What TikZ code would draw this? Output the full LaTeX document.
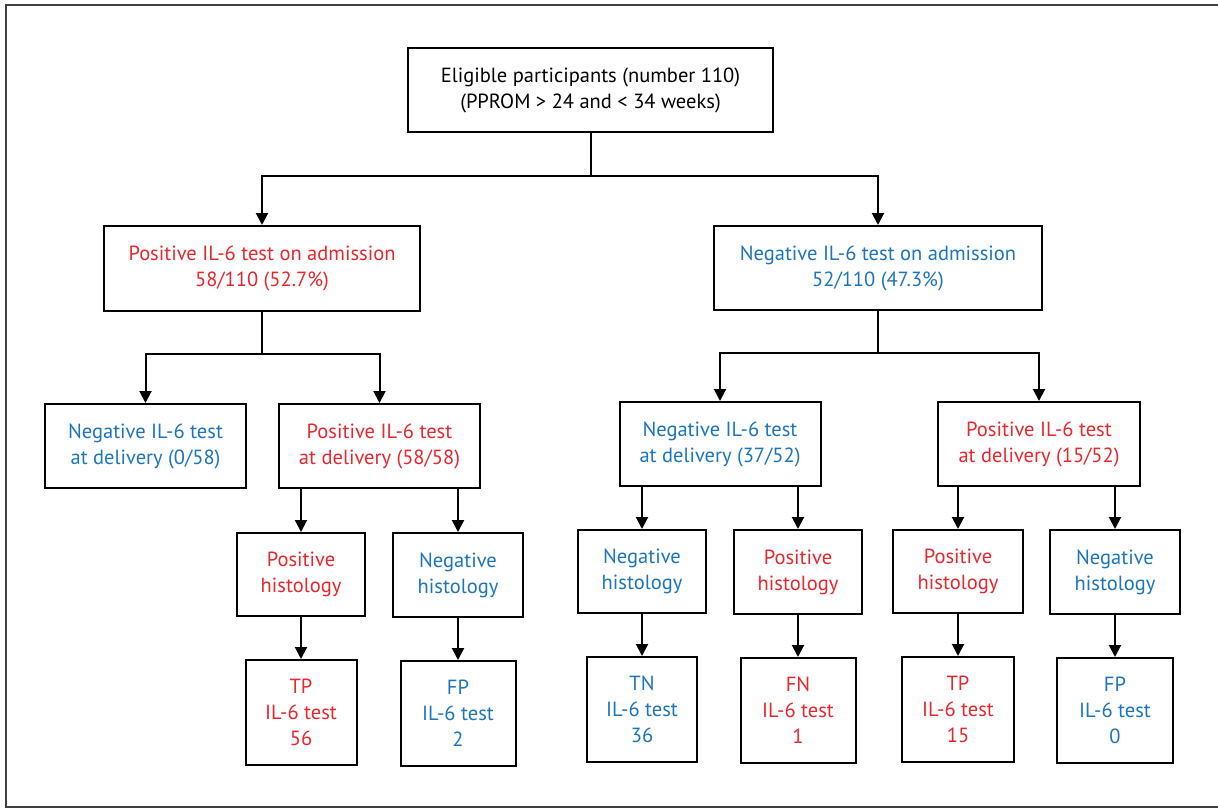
\documentclass[tikz,border=0pt]{standalone}
\usepackage{fontspec}
\setmainfont{PT Sans}
\usetikzlibrary{arrows.meta}
\definecolor{posred}{RGB}{232,38,45}
\definecolor{negblue}{RGB}{28,117,187}
\begin{document}
\begin{tikzpicture}[x=1pt,y=-1pt,
  box/.style={draw=black, line width=2pt, align=center, inner sep=0pt,
    font=\fontsize{20.5}{26}\selectfont},
  posbox/.style={box, text=posred},
  negbox/.style={box, text=negblue},
  arr/.style={line width=2pt, -{Triangle[width=12pt,length=12pt]}},
  ln/.style={line width=2pt}]
\useasboundingbox (0,0) rectangle (1218,809);
\draw[black!75, line width=2pt] (6,5) rectangle (1230,807);
% level 0
\node[box, minimum width=365pt, minimum height=84pt] (top) at (590.5,90)
  {Eligible participants (number 110)\\(PPROM > 24 and < 34 weeks)};
% level 1
\node[posbox, minimum width=316pt, minimum height=85pt] (L1) at (262,268.5)
  {Positive IL-6 test on admission\\58/110 (52.7\%)};
\node[negbox, minimum width=328pt, minimum height=84pt] (R1) at (878,268)
  {Negative IL-6 test on admission\\52/110 (47.3\%)};
% level 2
\node[negbox, minimum width=201pt, minimum height=84pt] (L2a) at (145.5,446)
  {Negative IL-6 test\\at delivery (0/58)};
\node[posbox, minimum width=201pt, minimum height=84pt] (L2b) at (379.5,446)
  {Positive IL-6 test\\at delivery (58/58)};
\node[negbox, minimum width=201pt, minimum height=84pt] (R2a) at (720,444)
  {Negative IL-6 test\\at delivery (37/52)};
\node[posbox, minimum width=202pt, minimum height=84pt] (R2b) at (1039,444)
  {Positive IL-6 test\\at delivery (15/52)};
% level 3
\node[posbox, minimum width=128pt, minimum height=83pt] (L3a) at (301,574.5)
  {Positive\\histology};
\node[negbox, minimum width=130pt, minimum height=84pt] (L3b) at (458,575)
  {Negative\\histology};
\node[negbox, minimum width=128pt, minimum height=83pt] (R3a) at (642,571.5)
  {Negative\\histology};
\node[posbox, minimum width=128pt, minimum height=84pt] (R3b) at (798,572)
  {Positive\\histology};
\node[posbox, minimum width=130pt, minimum height=83pt] (R3c) at (958,571.5)
  {Positive\\histology};
\node[negbox, minimum width=130pt, minimum height=84pt] (R3d) at (1115,572)
  {Negative\\histology};
% level 4
\node[posbox, minimum width=111pt, minimum height=105pt] (L4a) at (301,712.5)
  {TP\\IL-6 test\\56};
\node[negbox, minimum width=115pt, minimum height=105pt] (L4b) at (458,713.5)
  {FP\\IL-6 test\\2};
\node[negbox, minimum width=110pt, minimum height=105pt] (R4a) at (642,709.5)
  {TN\\IL-6 test\\36};
\node[posbox, minimum width=115pt, minimum height=105pt] (R4b) at (798,710.5)
  {FN\\IL-6 test\\1};
\node[posbox, minimum width=112pt, minimum height=105pt] (R4c) at (958,709.5)
  {TP\\IL-6 test\\15};
\node[negbox, minimum width=116pt, minimum height=105pt] (R4d) at (1115,710.5)
  {FP\\IL-6 test\\0};
% connectors
\coordinate (j1) at (590.5,176);
\draw[ln] (top.south) -- (j1);
\draw[arr] (j1) -| (L1.north);
\draw[arr] (j1) -| (R1.north);
\coordinate (j2) at (262,354);
\draw[ln] (L1.south) -- (j2);
\draw[arr] (j2) -| (L2a.north);
\draw[arr] (j2) -| (L2b.north);
\coordinate (j3) at (878,353);
\draw[ln] (R1.south) -- (j3);
\draw[arr] (j3) -| (R2a.north);
\draw[arr] (j3) -| (R2b.north);
\draw[arr] (L3a.north |- L2b.south) -- (L3a.north);
\draw[arr] (L3b.north |- L2b.south) -- (L3b.north);
\draw[arr] (R3a.north |- R2a.south) -- (R3a.north);
\draw[arr] (R3b.north |- R2a.south) -- (R3b.north);
\draw[arr] (R3c.north |- R2b.south) -- (R3c.north);
\draw[arr] (R3d.north |- R2b.south) -- (R3d.north);
\draw[arr] (L3a.south) -- (L4a.north);
\draw[arr] (L3b.south) -- (L4b.north);
\draw[arr] (R3a.south) -- (R4a.north);
\draw[arr] (R3b.south) -- (R4b.north);
\draw[arr] (R3c.south) -- (R4c.north);
\draw[arr] (R3d.south) -- (R4d.north);
\end{tikzpicture}
\end{document}
